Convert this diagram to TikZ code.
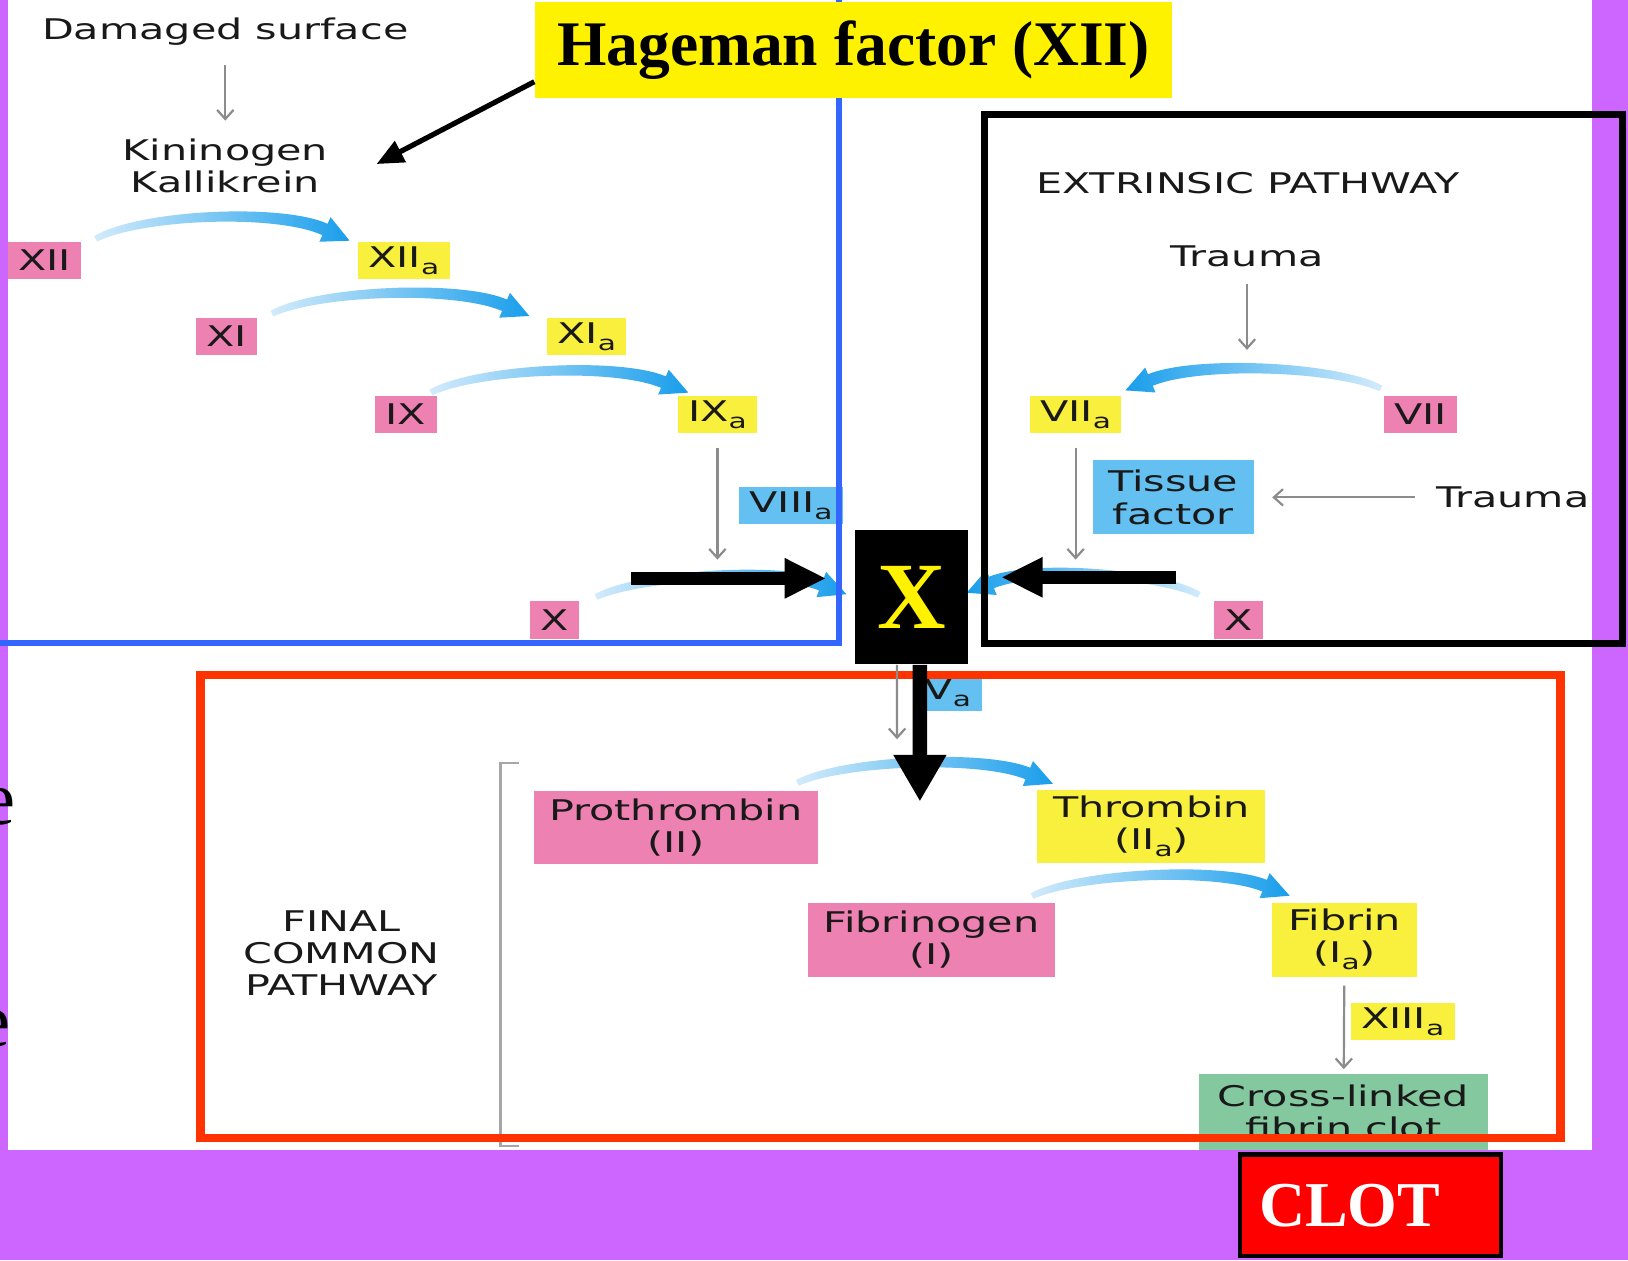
\documentclass[tikz,border=0pt]{standalone}
\usepackage{fontspec}
\setmainfont{Liberation Serif}
\newfontfamily\labfont[FakeStretch=1.45]{DejaVu Sans}
\usetikzlibrary{calc,arrows.meta,positioning}
\tikzset{>=stealth}

\definecolor{slidepurple}{RGB}{204,102,255}
\definecolor{pathblue}{RGB}{51,102,255}
\definecolor{redline}{RGB}{255,51,0}
\definecolor{factpink}{RGB}{237,130,178}
\definecolor{factyellow}{RGB}{248,240,60}
\definecolor{cofblue}{RGB}{100,192,240}
\definecolor{clotgreen}{RGB}{132,200,160}
\definecolor{arclight}{RGB}{210,235,251}
\definecolor{arcdeep}{RGB}{25,158,235}

\tikzset{
  lab/.style={font=\labfont\fontsize{7.8pt}{8.8pt}\selectfont, text=black!90, align=center, inner sep=0pt},
  chip/.style={lab, inner xsep=0.1cm, minimum height=0.36cm},
  card/.style={lab, inner xsep=0.15cm, minimum height=0.71cm},
  zym/.style={chip, fill=factpink},
  act/.style={chip, fill=factyellow},
  cof/.style={chip, fill=cofblue},
  greyarr/.style={draw=black!45, line width=0.6pt, -{Straight Barb[length=2.5pt,width=4.5pt]}},
  bigarr/.style={line width=0.12cm, -{Triangle[length=0.4cm,width=0.36cm]}},
}
\newcommand\actsub{\raisebox{-0.45ex}{\fontsize{5.6pt}{6pt}\selectfont a}}
% shaded curved arrow: start, end, bend, left colour, right colour
\newcommand\flowarc[5]{%
  \coordinate (fa-s) at (#1);
  \coordinate (fa-e) at (#2);
  \coordinate (fa-c1) at ($(fa-s)!0.2!(fa-e)+(0,-#3)$);
  \coordinate (fa-c2) at ($(fa-s)!0.8!(fa-e)+(0,-#3)$);
  \shade[left color=#4, right color=#5]
    ($(fa-s)!0.03cm!90:(fa-c1)$) .. controls ($(fa-c1)!0.05cm!-90:(fa-s)$) and ($(fa-c2)!0.06cm!90:(fa-e)$) .. ($(fa-e)!0.06cm!-90:(fa-c2)$)
    -- ($(fa-e)!0.13cm!-90:(fa-c2)$) -- ($(fa-e)!-0.26cm!(fa-c2)$) -- ($(fa-e)!0.13cm!90:(fa-c2)$)
    -- ($(fa-e)!0.06cm!90:(fa-c2)$) .. controls ($(fa-c2)!0.06cm!-90:(fa-e)$) and ($(fa-c1)!0.05cm!90:(fa-s)$) .. ($(fa-s)!0.03cm!-90:(fa-c1)$) -- cycle;
}

\begin{document}
\begin{tikzpicture}[x=0.01cm,y=-0.01cm]
\useasboundingbox (0,0) rectangle (1568,1214);
\clip (0,0) rectangle (1568,1214);
\fill[slidepurple] (0,0) rectangle (1568,1214);
\fill[white] (8,0) rectangle (1533,1108);
\node[anchor=base east, inner sep=0pt, font=\fontsize{21pt}{24pt}\selectfont] (e1) at (16,794) {e};
\node[anchor=base east, inner sep=0pt, font=\fontsize{21pt}{24pt}\selectfont] (e2) at (11,1008) {e};

% intrinsic pathway
\node[lab] (dmg) at (217,30) {Damaged surface};
\node[lab] (kin) at (217,160) {Kininogen\\Kallikrein};
\node[zym] (xii) at (43,251) {XII};
\node[act] (xiia) at (389,251) {XII\actsub};
\node[zym] (xi) at (218,324) {XI};
\node[act] (xia) at (565,324) {XI\actsub};
\node[zym] (ix) at (391,399) {IX};
\node[act] (ixa) at (691,399) {IX\actsub};
\node[cof] (viiia) at (762,487) {VIII\actsub};
\node[zym] (xl) at (534,597) {X};
\draw[greyarr, shorten <=0.19cm, shorten >=0.17cm] (dmg) -- (kin);
\coordinate (ixa-end) at (691,539);
\draw[greyarr] (ixa.south) ++(0,14) -- (ixa-end);
\flowarc{92,230}{313,221}{22}{arclight}{arcdeep}
\flowarc{262,302}{486,294}{21}{arclight}{arcdeep}
\flowarc{415,378}{639,368}{21}{arclight}{arcdeep}
\flowarc{574,575}{791,563}{19}{arclight}{arcdeep}

% extrinsic pathway
\node[lab] (extr) at (1202,176) {EXTRINSIC PATHWAY};
\node[lab] (trauma1) at (1201,247) {Trauma};
\node[act] (viia) at (1036,399) {VII\actsub};
\node[zym] (vii) at (1368,399) {VII};
\node[card, fill=cofblue] (tissue) at (1130,479) {Tissue\\factor};
\node[lab] (trauma2) at (1457,479) {Trauma};
\node[zym] (xr) at (1193,597) {X};
\coordinate (vii-in) at (1201,337);
\coordinate (viia-end) at (1036,539);
\draw[greyarr] (trauma1.south) ++(0,16) -- (vii-in);
\draw[greyarr] (viia.south) ++(0,14) -- (viia-end);
\draw[greyarr, shorten <=0.2cm, shorten >=0.17cm] (trauma2) -- (tissue);
\flowarc{1330,374}{1108,366}{20}{arcdeep}{arclight}
\flowarc{1155,573}{955,561}{19}{arcdeep}{arclight}

% final common pathway
\node[lab] (final) at (329,918) {FINAL\\COMMON\\PATHWAY};
\draw[black!35, line width=0.6pt] (500,735) -- (482,735) -- (482,1104) -- (500,1104);
\node[cof] (va) at (913,667) {V\actsub};
\node[card, fill=factpink] (proth) at (651,797) {Prothrombin\\(II)};
\node[card, fill=factyellow] (thromb) at (1109,796) {Thrombin\\(II\actsub)};
\node[card, fill=factpink] (fibgen) at (897,905) {Fibrinogen\\(I)};
\node[card, fill=factyellow] (fibrin) at (1295,905) {Fibrin\\(I\actsub)};
\node[act] (xiiia) at (1351,984) {XIII\actsub};
\node[lab, fill=clotgreen, minimum width=2.78cm, minimum height=0.73cm] (crossed) at (1294,1071) {Cross-linked\\fibrin clot};
\draw[greyarr, shorten <=0.08cm, shorten >=0.04cm] (fibrin) -- (crossed);
\flowarc{768,754}{990,745}{20}{arclight}{arcdeep}
\flowarc{994,863}{1218,853}{20}{arclight}{arcdeep}

% frames
\draw[pathblue, line width=0.06cm] (0,619) -- (808,619) -- (808,-5);
\draw[line width=0.07cm] (948,110) rectangle (1563,620);
\draw[redline, line width=0.08cm] (193,650) rectangle (1503,1096);

% slide overlays
\node[fill=black, text=yellow, minimum width=1.09cm, minimum height=1.29cm, inner sep=0pt,
  font=\bfseries\fontsize{26pt}{30pt}\selectfont] (xbig) at (878,575) {X};
\coordinate (in-left) at (608,557);
\coordinate (in-right) at (1133,556);
\coordinate (fc-in) at (886,772);
\coordinate (va-in) at (864,712);
\draw[greyarr] ([xshift=-0.14cm]xbig.south) -- (va-in);
\draw[bigarr] (in-left) -- ([shift={(-27,-18)}]xbig.west);
\draw[bigarr] (in-right) -- ([shift={(31,-19)}]xbig.east);
\draw[line width=0.14cm, -{Triangle[length=0.45cm,width=0.48cm]}] ([xshift=0.08cm]xbig.south) -- (fc-in);
\node[fill=yellow, minimum width=6.13cm, minimum height=0.92cm, inner sep=0pt,
  font=\bfseries\fontsize{17.4pt}{20pt}\selectfont] (hageman) at (822,48) {Hageman factor (XII)};
\draw[line width=0.05cm, -{Triangle[length=0.26cm,width=0.22cm]}] ([yshift=0.16cm]hageman.south west) -- ([shift={(46,-2)}]kin.east);
\node[fill=red, draw=black, line width=0.04cm, text=white, minimum width=2.51cm, minimum height=0.98cm, inner sep=0pt,
  font=\bfseries\fontsize{17.5pt}{20pt}\selectfont] (clot) at (1320,1161) {CLOT\kern0.4cm};
\end{tikzpicture}
\end{document}
